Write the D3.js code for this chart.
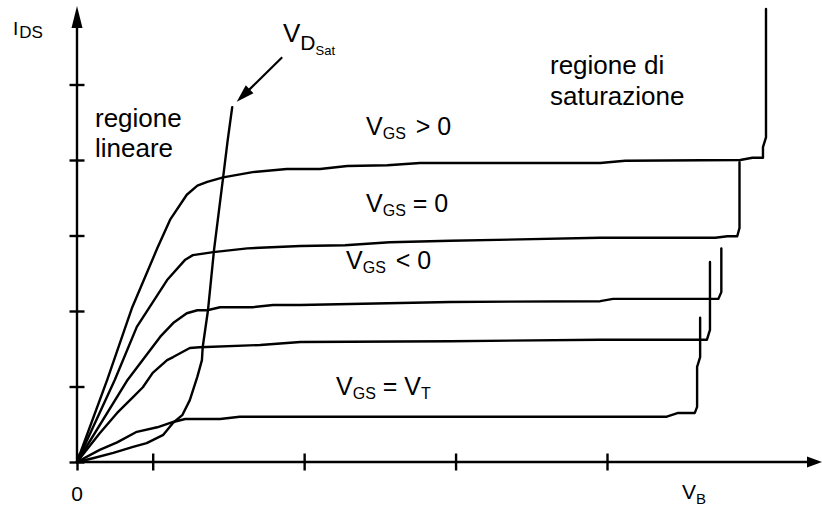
<!DOCTYPE html>
<html>
<head>
<meta charset="utf-8">
<script src="https://cdn.jsdelivr.net/npm/d3@7/dist/d3.min.js"></script>
<style>
  body { margin: 0; background: #fff; }
  text { font-family: "Liberation Sans", Arial, sans-serif; fill: #000; }
</style>
</head>
<body>
<svg id="chart" width="822" height="506"></svg>
<script>
// tick positions (axis units)
const xTicks = [0, 1, 3, 5, 7];
const yTicks = [0, 1, 2, 3, 4, 5];

// output characteristics: [V_DS, I_DS]
const vgsPositive = [[0,0],[0.40,1.09],[0.73,2.05],[1.06,2.83],[1.23,3.21],[1.45,3.54],[1.59,3.66],[1.72,3.71],
  [1.93,3.77],[2.32,3.84],[2.77,3.88],[3.21,3.88],[3.57,3.92],[4.10,3.93],[4.53,3.96],[6.91,3.96],[7.24,3.99],
  [8.76,4.00],[8.92,4.03],[9.06,4.03],[9.06,4.17],[9.10,4.30],[9.10,6.00]];
const vgsZero = [[0,0],[0.50,1.09],[0.79,1.79],[1.19,2.41],[1.43,2.68],[1.53,2.74],[1.80,2.78],[2.25,2.83],
  [2.95,2.86],[3.54,2.87],[4.13,2.91],[4.93,2.93],[6.91,2.97],[8.43,2.97],[8.59,2.99],[8.72,2.99],[8.75,3.10],[8.75,3.97]];
const vgsNegative = [[0,0],[0.67,1.09],[1.10,1.66],[1.27,1.84],[1.45,1.97],[1.59,2.01],[1.72,2.01],[1.89,2.05],
  [2.32,2.05],[2.59,2.08],[2.95,2.08],[4.93,2.12],[6.91,2.13],[7.08,2.16],[8.47,2.16],[8.51,2.25],[8.51,2.83]];
const vgsLower = [[0,0],[0.30,0.38],[0.53,0.65],[0.74,0.86],[0.87,0.99],[1.00,1.18],[1.19,1.35],[1.27,1.39],
  [1.49,1.51],[1.62,1.52],[2.42,1.55],[2.95,1.59],[4.93,1.60],[6.91,1.62],[8.32,1.62],[8.36,1.75],[8.36,2.65]];
const vgsThreshold = [[0,0],[0.30,0.16],[0.53,0.26],[0.79,0.40],[1.06,0.46],[1.27,0.53],[1.43,0.57],[1.89,0.57],
  [2.15,0.60],[7.79,0.60],[7.94,0.65],[8.16,0.65],[8.19,0.73],[8.19,1.26],[8.23,1.39],[8.23,1.91]];
// locus of V_D,sat
const vdSat = [[0,0],[0.21,0.05],[0.48,0.12],[0.74,0.20],[0.92,0.25],[1.14,0.36],[1.27,0.52],[1.39,0.62],
  [1.49,0.82],[1.59,1.13],[1.65,1.35],[1.66,1.52],[1.73,2.01],[1.81,2.81],[1.93,3.77],[1.99,4.26],[2.05,4.70]];

const curves = [vgsPositive, vgsZero, vgsNegative, vgsLower, vgsThreshold, vdSat];

const svg = d3.select("#chart");
const x = d3.scaleLinear().domain([0, 7]).range([77, 607]);
const y = d3.scaleLinear().domain([0, 5]).range([462, 84.5]);
const lw = 2.4;

// axes: ticks cross the line on both sides
const yAxis = svg.append("g")
    .attr("transform", `translate(${x(0)},0)`)
    .call(d3.axisLeft(y).tickValues(yTicks).tickFormat(""));
yAxis.select(".domain").remove();
yAxis.selectAll(".tick line").attr("x1", 7.5).attr("x2", -7.5)
    .attr("stroke", "#000").attr("stroke-width", lw);

const xAxis = svg.append("g")
    .attr("transform", `translate(0,${y(0)})`)
    .call(d3.axisBottom(x).tickValues(xTicks).tickFormat(""));
xAxis.select(".domain").remove();
xAxis.selectAll(".tick line").attr("y1", -8.5).attr("y2", 8.5)
    .attr("stroke", "#000").attr("stroke-width", lw);

const yTip = y(6.04), xTip = 822;
svg.append("line")
    .attr("x1", x(0)).attr("y1", y(0)).attr("x2", x(0)).attr("y2", yTip + 15)
    .attr("stroke", "#000").attr("stroke-width", lw);
svg.append("path")
    .attr("d", `M${x(0)},${yTip} L${x(0) - 5.5},${yTip + 22} L${x(0) + 5.5},${yTip + 22} Z`)
    .attr("fill", "#000");
svg.append("line")
    .attr("x1", x(0)).attr("y1", y(0)).attr("x2", xTip - 10).attr("y2", y(0))
    .attr("stroke", "#000").attr("stroke-width", lw);
svg.append("path")
    .attr("d", `M${xTip},${y(0)} L${xTip - 15},${y(0) - 5.5} L${xTip - 15},${y(0) + 5.5} Z`)
    .attr("fill", "#000");

// curves
const line = d3.line().x(d => x(d[0])).y(d => y(d[1]));
svg.selectAll(".curve")
    .data(curves)
    .enter().append("path")
    .attr("class", "curve")
    .attr("d", line)
    .attr("fill", "none")
    .attr("stroke", "#000")
    .attr("stroke-width", lw)
    .attr("stroke-linejoin", "round")
    .attr("stroke-linecap", "round");

// arrow pointing at the V_Dsat locus
const aFrom = [x(2.71), y(5.36)], aTo = [x(2.11), y(4.77)];
const ang = Math.atan2(aTo[1] - aFrom[1], aTo[0] - aFrom[0]);
const hl = 18, hw = 5.5;
const bx = aTo[0] - hl * Math.cos(ang), by = aTo[1] - hl * Math.sin(ang);
svg.append("line")
    .attr("x1", aFrom[0]).attr("y1", aFrom[1]).attr("x2", bx + 3 * Math.cos(ang)).attr("y2", by + 3 * Math.sin(ang))
    .attr("stroke", "#000").attr("stroke-width", 2.2);
svg.append("path")
    .attr("d", `M${aTo[0]},${aTo[1]} L${bx - hw * Math.sin(ang)},${by + hw * Math.cos(ang)} L${bx + hw * Math.sin(ang)},${by - hw * Math.cos(ang)} Z`)
    .attr("fill", "#000");

// labels
const label = (px, py, parts) => {
    const t = svg.append("text").attr("x", px).attr("y", py);
    parts.forEach(p => {
        t.append("tspan")
            .attr("font-size", p.size)
            .attr("dy", p.dy || 0)
            .attr("dx", p.dx || 0)
            .text(p.text);
    });
    return t;
};

label(13, 35, [{text: "I", size: 19}, {text: "DS", size: 17, dy: 3, dx: 1}]);
label(283, 42, [{text: "V", size: 26}, {text: "D", size: 21, dy: 8}, {text: "Sat", size: 13, dy: 5}]);

svg.append("text").attr("x", 95).attr("y", 127).attr("font-size", 26).text("regione");
svg.append("text").attr("x", 95).attr("y", 157).attr("font-size", 26).text("lineare");
svg.append("text").attr("x", 550).attr("y", 74).attr("font-size", 26).text("regione di");
svg.append("text").attr("x", 550).attr("y", 105).attr("font-size", 26).text("saturazione");

label(366, 135, [{text: "V", size: 25}, {text: "GS", size: 16, dy: 4}, {text: " > 0", size: 25, dy: -4, dx: 3}]);
label(366, 212, [{text: "V", size: 25}, {text: "GS", size: 16, dy: 4}, {text: " = 0", size: 25, dy: -4}]);
label(346, 269, [{text: "V", size: 25}, {text: "GS", size: 16, dy: 4}, {text: " < 0", size: 25, dy: -4, dx: 3}]);
label(336, 395, [{text: "V", size: 25}, {text: "GS", size: 16, dy: 4}, {text: " = V", size: 25, dy: -4},
    {text: "T", size: 16, dy: 4}]);

svg.append("text").attr("x", x(0)).attr("y", 501).attr("font-size", 21)
    .attr("text-anchor", "middle").text("0");
label(682, 499, [{text: "V", size: 21}, {text: "B", size: 15, dy: 5}]);
</script>
</body>
</html>
